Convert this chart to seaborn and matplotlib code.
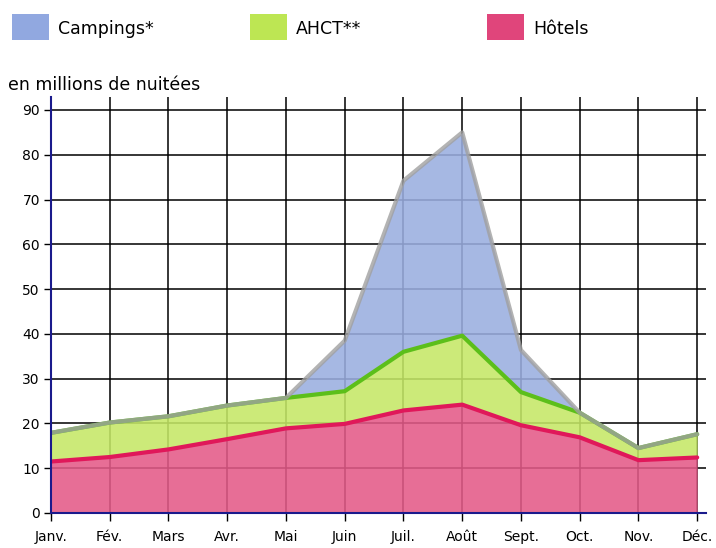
import matplotlib
matplotlib.use("Agg")
import matplotlib.pyplot as plt
import seaborn as sns
import pandas as pd
from matplotlib.patches import Rectangle

# monthly nights, in millions
months = ["Janv.", "Fév.", "Mars", "Avr.", "Mai", "Juin", "Juil.", "Août",
          "Sept.", "Oct.", "Nov.", "Déc."]
hotels = [11.5, 12.5, 14.2, 16.5, 18.9, 19.9, 22.9, 24.2, 19.6, 16.9, 11.8, 12.4]
ahct = [6.4, 7.7, 7.4, 7.5, 6.8, 7.3, 13.1, 15.4, 7.4, 5.5, 2.7, 5.2]
campings = [0, 0, 0, 0, 0, 11.3, 38.2, 45.4, 9.4, 0, 0, 0]

df = pd.DataFrame({"mois": months, "Hôtels": hotels, "AHCT": ahct, "Campings": campings})
df["x"] = range(len(df))
df["top_h"] = df["Hôtels"]
df["top_a"] = df["top_h"] + df["AHCT"]
df["top_c"] = df["top_a"] + df["Campings"]

sns.set_style("white")
plt.rcParams["font.family"] = ["DejaVu Sans"]
plt.rcParams["text.color"] = "black"
plt.rcParams["xtick.color"] = "black"
plt.rcParams["ytick.color"] = "black"

fig = plt.figure(figsize=(7.16, 5.48), dpi=100)
ax = fig.add_axes([51/716, 1 - 513/548, 655/716, 416/548])

# grid first, fills on top with some transparency
ax.set_axisbelow(True)
ax.grid(True, color="black", linewidth=1.1)

ax.fill_between(df["x"], 0, df["top_h"], color="#e45a88", alpha=0.88, linewidth=0, zorder=2)
ax.fill_between(df["x"], df["top_h"], df["top_a"], color="#c5e866", alpha=0.88, linewidth=0, zorder=2)
ax.fill_between(df["x"], df["top_a"], df["top_c"], color="#9aaee0", alpha=0.88, linewidth=0, zorder=2)

sns.lineplot(data=df, x="x", y="top_h", color="#e0185a", linewidth=3, ax=ax, zorder=4)
sns.lineplot(data=df, x="x", y="top_a", color="#5cbf1a", linewidth=3, ax=ax, zorder=5)
sns.lineplot(data=df, x="x", y="top_c", color="#a0a0a0", linewidth=3, alpha=0.8, ax=ax, zorder=6)

ax.set_xlim(0, 11.15)
ax.set_ylim(0, 92.9)
ax.set_xticks(df["x"])
ax.set_xticklabels(months, fontsize=10)
ax.set_yticks(range(0, 91, 10))
ax.tick_params(axis="y", labelsize=10, length=5, width=1, pad=3, left=True)
ax.tick_params(axis="x", length=6, width=1, pad=6, bottom=True)
ax.set_xlabel("")
ax.set_ylabel("")

for side in ["top", "right"]:
    ax.spines[side].set_visible(False)
for side in ["left", "bottom"]:
    ax.spines[side].set_color("#1a1a8c")
    ax.spines[side].set_linewidth(1.5)
    ax.spines[side].set_zorder(7)

fig.text(8/716, 1 - 85/548, "en millions de nuitées", fontsize=12.5, va="center", ha="left")

# legend row at top
legend_items = [("Campings*", "#91a8e0", 12), ("AHCT**", "#bde653", 250), ("Hôtels", "#e0457b", 487)]
for label, col, px in legend_items:
    fig.add_artist(Rectangle((px/716, 1 - 40/548), 37/716, 26/548,
                             transform=fig.transFigure, color=col, linewidth=0))
    fig.text((px + 46)/716, 1 - 29/548, label, fontsize=12.5, va="center", ha="left")

fig.savefig("out.png", dpi=100)
